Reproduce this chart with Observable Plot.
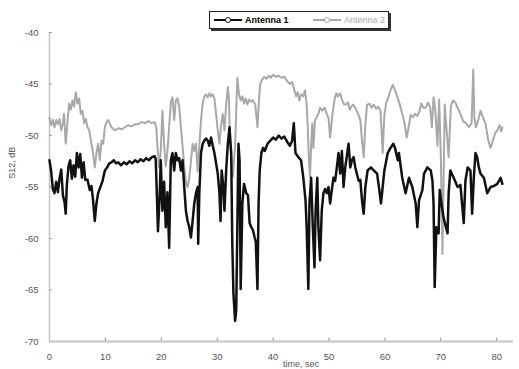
<!DOCTYPE html>
<html>
<head>
<meta charset="utf-8">
<script src="https://cdn.jsdelivr.net/npm/d3@7"></script>
<script src="https://cdn.jsdelivr.net/npm/@observablehq/plot@0.6"></script>
<style>
  html, body { margin: 0; padding: 0; background: #fff; }
  #wrap { position: relative; width: 519px; height: 369px; overflow: hidden; font-family: "Liberation Sans", Arial, sans-serif; }
  #legend { position: absolute; left: 209px; top: 11px; width: 178px; height: 16px; border: 1px solid #222; box-shadow: 2px 2px 0 #333; background: #fff; font-size: 9px; }
  .item { position: absolute; top: 2px; display: flex; align-items: center; height: 12px; white-space: nowrap; }
  .sw { position: relative; width: 28px; height: 12px; margin-right: 3px; flex: none; }
  .sw .ln { position: absolute; left: 0; right: 0; top: 5px; height: 2px; }
  .sw .mk { position: absolute; left: 11px; top: 3px; width: 4px; height: 4px; border-radius: 50%; background: #fff; border: 1px solid; }
</style>
</head>
<body>
<div id="wrap"></div>
<script>
// Antenna 1 (black)
const time1 = [0,0.3,0.6,0.9,1.2,1.5,1.8,2.1,2.4,2.7,2.9,3.1,3.4,3.7,4.0,4.3,4.6,4.9,5.2,5.5,5.8,6.1,6.4,6.8,7.2,7.5,7.8,8.1,8.4,8.7,9.1,9.5,9.9,10.3,10.7,11.1,11.5,11.9,12.3,12.8,13.3,13.8,14.3,14.8,15.3,15.8,16.3,16.8,17.3,17.8,18.3,18.8,19.0,19.2,19.4,19.7,19.9,20.2,20.5,20.8,21.1,21.4,21.7,22.0,22.3,22.6,22.9,23.2,23.5,23.8,24.1,24.4,24.7,25.0,25.3,25.6,25.9,26.2,26.5,26.6,26.8,27.1,27.4,27.7,28.0,28.3,28.6,28.9,29.2,29.5,30.1,30.4,30.6,30.8,31.1,31.3,31.6,31.9,32.2,32.5,32.7,32.9,33.2,33.4,33.6,33.8,34.0,34.2,34.5,34.8,35.2,35.5,35.8,36.1,36.4,36.7,36.9,37.2,37.4,37.6,37.9,38.2,38.5,39.0,39.5,40.0,40.5,41.0,41.5,42.0,42.5,43.0,43.4,43.7,44.0,44.5,45.0,45.4,45.8,46.0,46.3,46.5,46.8,47.1,47.4,47.6,47.9,48.1,48.4,48.7,49.0,49.3,49.6,49.9,50.2,50.5,50.8,51.1,51.4,51.7,52.0,52.3,52.6,52.9,53.5,53.8,54.1,54.4,54.7,55.3,55.6,55.9,56.2,56.5,56.9,57.5,58.0,58.6,59.0,59.3,59.6,59.9,60.5,61.0,61.5,61.8,62.3,62.5,63.1,63.7,64.3,64.9,65.5,65.8,66.1,66.7,67.0,67.6,68.2,68.5,68.7,68.9,69.2,69.6,69.8,70.3,70.5,71.2,71.4,71.7,72.3,73.0,73.5,74.1,74.4,74.8,75.3,75.6,75.9,76.2,76.5,76.8,77.1,77.7,78.3,78.9,79.5,80.1,80.7,81.0];
const s12Antenna1 = [-52.4,-53.5,-55.2,-55.6,-54.5,-55.5,-54.2,-53.3,-55.8,-56.5,-57.6,-54.8,-53.0,-52.4,-54.2,-52.9,-54.0,-51.7,-53.1,-51.8,-54.1,-52.6,-54.3,-54.3,-55.3,-54.9,-56.3,-58.3,-56.6,-55.6,-55.0,-54.4,-53.4,-53.1,-52.7,-52.6,-52.4,-52.7,-52.6,-52.9,-52.6,-52.8,-52.5,-52.7,-52.4,-52.6,-52.3,-52.5,-52.2,-52.4,-52.1,-52.0,-52.3,-55.6,-59.3,-56.0,-52.4,-57.3,-54.5,-58.9,-55.5,-60.9,-52.4,-51.7,-53.4,-51.7,-52.4,-52.2,-53.4,-52.4,-55.0,-57.3,-58.3,-58.9,-59.9,-58.3,-56.6,-55.6,-55.0,-60.5,-55.6,-51.7,-50.8,-50.5,-50.3,-50.5,-51.0,-50.2,-51.0,-51.7,-53.7,-55.6,-58.3,-53.4,-55.0,-57.3,-53.4,-50.8,-49.2,-51.7,-60.5,-65.3,-68.0,-67.0,-58.9,-50.8,-52.4,-64.9,-56.6,-54.7,-55.6,-55.8,-58.5,-58.9,-59.2,-59.9,-60.3,-64.9,-56.6,-53.4,-51.7,-51.2,-51.5,-50.8,-50.5,-50.2,-50.4,-50.0,-50.3,-50.1,-50.6,-51.0,-50.5,-48.8,-51.7,-52.1,-52.4,-54.1,-56.3,-58.9,-64.9,-56.6,-54.1,-58.9,-62.8,-57.3,-54.1,-58.9,-62.1,-57.3,-55.6,-55.2,-55.6,-55.0,-56.6,-55.3,-54.1,-54.4,-53.1,-51.7,-53.7,-51.5,-55.0,-53.1,-50.8,-53.1,-52.4,-52.1,-53.1,-54.4,-54.3,-56.3,-57.6,-55.0,-53.4,-53.1,-53.4,-53.7,-55.3,-56.6,-55.0,-53.4,-51.7,-51.2,-50.8,-51.2,-52.4,-51.7,-54.1,-55.6,-54.1,-55.0,-56.6,-58.9,-56.3,-55.3,-53.7,-53.1,-53.4,-54.4,-56.6,-64.7,-58.9,-59.5,-55.3,-57.3,-58.0,-59.5,-55.6,-53.4,-54.1,-55.0,-54.8,-58.5,-54.4,-53.1,-53.4,-57.6,-54.1,-51.7,-52.1,-53.1,-53.7,-54.1,-55.6,-55.0,-54.9,-54.7,-54.1,-54.7];

// Antenna 2 (grey)
const time2 = [0,0.3,0.6,0.9,1.2,1.5,1.8,2.1,2.4,2.6,2.9,3.2,3.5,3.8,4.1,4.4,4.7,5.0,5.3,5.6,5.9,6.2,6.5,6.8,7.1,7.5,7.8,8.1,8.4,8.7,9.0,9.3,9.6,9.9,10.2,10.5,10.8,11.1,11.7,12.3,12.9,13.5,14.1,14.7,15.3,15.9,16.5,17.1,17.7,18.3,18.8,19.1,19.3,19.6,19.9,20.2,20.5,20.8,21.1,21.4,21.7,22.0,22.3,22.6,22.9,23.2,23.5,23.8,24.1,24.4,24.7,25.0,25.3,25.6,25.9,26.2,26.5,26.8,27.1,27.4,27.7,28.0,28.3,28.6,28.9,29.2,29.5,29.8,30.1,30.4,30.7,31.0,31.3,31.6,31.9,32.1,32.3,32.5,32.8,33.2,33.6,33.9,34.2,34.5,34.8,35.1,35.4,35.7,36.0,36.4,36.8,37.2,37.5,37.7,38.0,38.4,38.8,39.2,39.6,40.0,40.5,41.0,41.5,42.0,42.5,43.0,43.4,43.8,44.1,44.4,44.7,45.0,45.4,45.7,46.0,46.2,46.4,46.6,46.8,47.0,47.2,47.5,47.8,48.1,48.4,48.8,49.2,49.6,49.9,50.2,50.6,51.0,51.3,51.6,52.0,52.3,52.7,53.0,53.4,53.7,54.0,54.3,54.7,55.2,55.6,55.9,56.2,56.5,56.8,57.2,57.6,58.0,58.4,58.8,59.2,59.4,59.6,59.9,60.2,60.6,61.0,61.4,61.8,62.2,62.6,63.1,63.5,63.9,64.3,64.6,65.0,65.4,65.8,66.2,66.5,66.9,67.3,67.7,68.1,68.4,68.7,69.0,69.4,69.7,70.0,70.3,70.5,70.7,71.0,71.4,71.8,72.2,72.6,73.0,73.5,74.0,74.5,75.0,75.5,75.8,76.0,76.3,76.7,77.1,77.5,78.0,78.5,78.9,79.3,79.7,80.1,80.5,80.8,81.0];
const s12Antenna2 = [-48.3,-49.0,-48.5,-49.2,-48.5,-48.9,-48.4,-49.5,-48.8,-47.9,-50.8,-48.8,-46.9,-47.5,-46.6,-47.2,-45.8,-46.9,-46.4,-47.9,-47.6,-48.8,-48.4,-49.2,-49.5,-50.8,-51.7,-53.1,-51.7,-50.8,-52.4,-50.5,-50.8,-49.2,-48.7,-48.5,-48.9,-49.2,-49.5,-49.3,-49.4,-49.2,-49.0,-49.1,-48.9,-48.9,-48.7,-48.8,-48.6,-48.8,-48.7,-49.2,-51.0,-53.1,-51.5,-47.6,-50.8,-53.0,-51.5,-49.2,-46.8,-46.3,-48.5,-46.6,-46.4,-47.2,-49.2,-51.0,-53.0,-54.5,-55.0,-54.2,-52.5,-50.8,-51.5,-50.8,-53.5,-51.0,-48.5,-46.9,-46.2,-46.0,-46.3,-45.9,-46.2,-46.0,-46.4,-47.9,-49.5,-50.8,-49.0,-47.9,-49.5,-47.0,-45.3,-46.5,-50.8,-52.0,-54.0,-51.0,-44.4,-46.0,-46.6,-46.2,-46.9,-46.4,-47.0,-46.5,-46.7,-46.6,-47.0,-49.2,-46.3,-45.0,-44.6,-44.3,-44.5,-44.2,-44.4,-44.1,-44.3,-44.2,-44.4,-44.3,-44.7,-45.0,-44.8,-45.6,-46.2,-45.8,-46.6,-46.0,-46.2,-45.6,-47.0,-49.2,-52.4,-54.0,-51.0,-48.8,-51.2,-48.5,-48.2,-47.9,-47.3,-47.6,-47.3,-47.9,-48.3,-50.2,-48.0,-46.5,-45.9,-46.2,-45.9,-46.5,-47.0,-47.0,-46.8,-47.5,-47.2,-47.0,-47.3,-47.9,-48.5,-50.5,-52.1,-49.0,-47.0,-46.9,-47.3,-47.0,-47.4,-47.2,-47.6,-49.5,-51.7,-48.0,-46.9,-46.3,-45.6,-45.1,-45.6,-46.2,-46.9,-47.9,-48.8,-50.2,-49.0,-48.0,-48.2,-47.9,-48.1,-47.6,-46.9,-47.3,-47.3,-46.8,-47.3,-49.2,-46.3,-47.5,-51.0,-46.5,-52.0,-61.5,-54.1,-47.0,-49.2,-52.1,-47.1,-46.6,-46.8,-47.3,-47.9,-48.6,-48.8,-49.2,-48.8,-43.6,-48.3,-49.2,-48.5,-47.6,-48.2,-48.9,-50.5,-51.2,-50.5,-49.8,-49.5,-49.0,-49.6,-49.2];

const xTicks = [0,10,20,30,40,50,60,70,80];
const yTicks = [-40,-45,-50,-55,-60,-65,-70];
const seriesNames = ["Antenna 1", "Antenna 2"];
const seriesColors = ["#111111", "#a8a8a8"];

const data1 = time1.map((t, i) => ({t, v: s12Antenna1[i]}));
const data2 = time2.map((t, i) => ({t, v: s12Antenna2[i]}));

const axisColor = "#c4c4c4";
const chart = Plot.plot({
  width: 519,
  height: 369,
  marginLeft: 49,
  marginRight: 6,
  marginTop: 32,
  marginBottom: 28,
  style: {fontFamily: "Liberation Sans, Arial, sans-serif", fontSize: "9.5px", color: "#555", background: "#fff"},
  x: {domain: [0, 83]},
  y: {domain: [-70, -40]},
  marks: [
    Plot.ruleX([0], {stroke: axisColor, strokeWidth: 1.5}),
    Plot.ruleY([-70], {stroke: axisColor, strokeWidth: 2}),
    Plot.ruleX(xTicks.filter(d => d > 0), {y1: -70, y2: -69.65, stroke: "#999", strokeWidth: 1}),
    Plot.ruleY(yTicks.filter(d => d > -70), {x1: 0, x2: 0.5, stroke: "#999", strokeWidth: 1}),
    Plot.axisX(xTicks, {tickSize: 0, tickPadding: 12, label: null, fill: "#555"}),
    Plot.axisY(yTicks, {tickSize: 0, tickPadding: 11, label: null, fill: "#555", tickFormat: d => String(d).replace("\u2212", "-")}),
    Plot.line(data2, {x: "t", y: "v", stroke: seriesColors[1], strokeWidth: 2, strokeLinejoin: "round"}),
    Plot.line(data1, {x: "t", y: "v", stroke: seriesColors[0], strokeWidth: 2.5, strokeLinejoin: "round"}),
    Plot.text(["time, sec"], {frameAnchor: "bottom", x: 45, dy: 25, fill: "#555", fontSize: 9}),
    Plot.text(["S12, dB"], {frameAnchor: "left", dx: -37, y: -54.2, rotate: -90, fill: "#555", fontSize: 9})
  ]
});
const wrap = document.getElementById("wrap");
wrap.appendChild(chart);

const legend = document.createElement("div");
legend.id = "legend";
const lefts = [4, 103];
seriesNames.forEach((name, i) => {
  const item = document.createElement("div");
  item.className = "item";
  item.style.left = lefts[i] + "px";
  item.innerHTML = `<div class="sw"><div class="ln" style="background:${seriesColors[i]}"></div><div class="mk" style="border-color:${seriesColors[i]}"></div></div><span style="color:${i === 0 ? '#000' : '#aaa'};font-weight:${i === 0 ? 'bold' : 'normal'}">${name}</span>`;
  legend.appendChild(item);
});
wrap.appendChild(legend);
</script>
</body>
</html>
